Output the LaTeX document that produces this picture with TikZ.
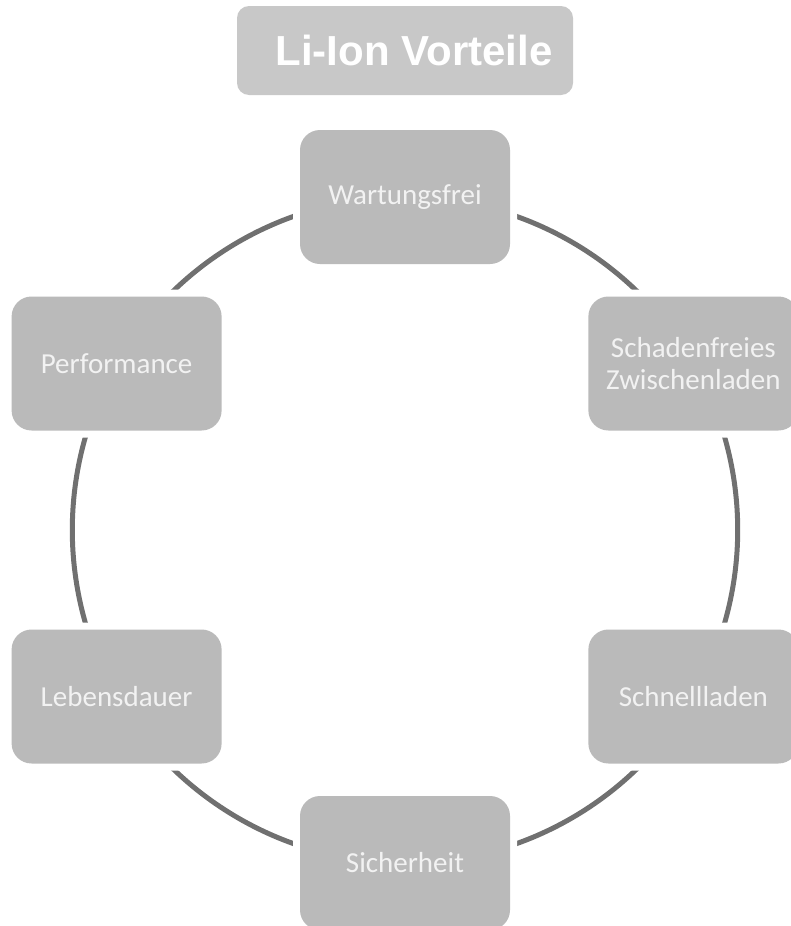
\documentclass[tikz,border=0pt]{standalone}
\usepackage{fontspec}
\setmainfont{Carlito}
\newfontfamily\titlefont{Liberation Sans}
\usetikzlibrary{calc, backgrounds}
\definecolor{boxgray}{HTML}{BABABA}
\definecolor{titlegray}{HTML}{C8C8C8}
\definecolor{ringgray}{HTML}{707070}
\definecolor{boxtext}{HTML}{F2F2F2}
\tikzset{
  box/.style   = {fill=boxgray, rounded corners=20pt, align=center,
                  minimum width=210pt, minimum height=134pt, inner sep=0pt,
                  text=boxtext, font=\fontsize{29}{32.5}\selectfont,
                  preaction={draw=white, line width=14pt}},
  title/.style = {fill=titlegray, rounded corners=12pt, inner sep=0pt,
                  minimum width=336pt, minimum height=89pt, text=white,
                  font=\titlefont\bfseries\fontsize{42}{46}\selectfont},
  ring/.style  = {draw=ringgray, line width=5pt, bend left=30, looseness=0.91},
}

\begin{document}
\begin{tikzpicture}[x=1pt, y=1pt]
    \useasboundingbox (0,0) rectangle (791,-926);
    % heading
    \node[title] (head) at (405,-50.5) {\hspace{18pt}Li-Ion Vorteile};
    % ring of advantages
    \coordinate (ctr) at (405,-530);
    \node[box] (wart) at ($(ctr)+(90:333)$)   {Wartungsfrei};
    \node[box] (schad) at ($(ctr)+(30:333)$)  {Schadenfreies\\ Zwischenladen};
    \node[box] (schn) at ($(ctr)+(-30:333)$)  {Schnellladen};
    \node[box] (sich) at ($(ctr)+(-90:333)$)  {Sicherheit};
    \node[box] (leb) at ($(ctr)+(-150:333)$)  {Lebensdauer};
    \node[box] (perf) at ($(ctr)+(150:333)$)  {Performance};
    \begin{scope}[on background layer]
      \draw[ring] (perf.center) to (wart.center);
      \draw[ring] (wart.center) to (schad.center);
      \draw[ring] (schad.center) to (schn.center);
      \draw[ring] (schn.center) to (sich.center);
      \draw[ring] (sich.center) to (leb.center);
      \draw[ring] (leb.center) to (perf.center);
    \end{scope}
  \end{tikzpicture}
\end{document}
